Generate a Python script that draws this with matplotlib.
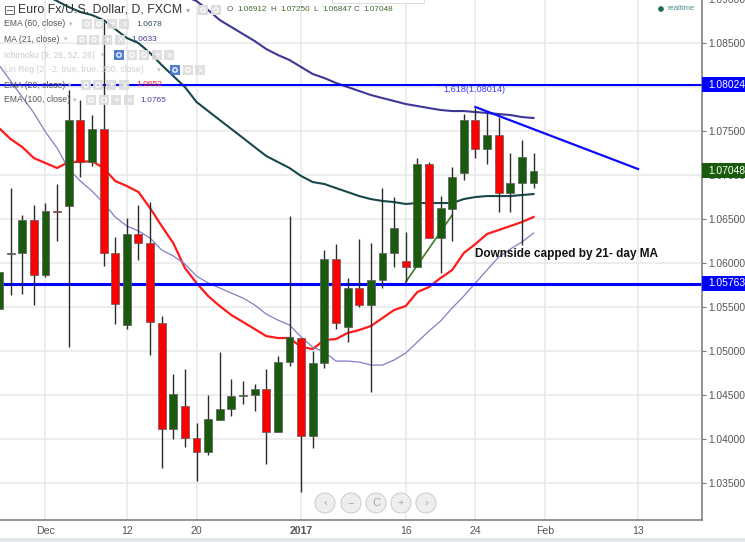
import matplotlib
matplotlib.use('Agg')
import matplotlib.pyplot as plt
from matplotlib.patches import Rectangle, Circle

plt.rcParams['font.family'] = ['Liberation Sans', 'DejaVu Sans']

# daily candles
opens = [1.05477, 1.06102, 1.06114, 1.06489, 1.05864, 1.06591, 1.06648, 1.07625, 1.07148, 1.07523,
         1.06114, 1.05296, 1.0633, 1.06227, 1.05318, 1.04114, 1.04375, 1.04011, 1.03852, 1.04216,
         1.04341, 1.04489, 1.045, 1.04568, 1.0408, 1.04875, 1.05148, 1.04034, 1.04864, 1.06046,
         1.05273, 1.05716, 1.05523, 1.05807, 1.06114, 1.06023, 1.05955, 1.07125, 1.06284, 1.06614,
         1.07023, 1.07625, 1.07296, 1.07455, 1.06796, 1.06909, 1.06912]
highs = [1.05898, 1.06852, 1.06546, 1.06659, 1.06682, 1.06898, 1.07966, 1.07852, 1.07682, 1.08739,
         1.06296, 1.06511, 1.06659, 1.06693, 1.05398, 1.04739, 1.04795, 1.04182, 1.045, 1.04989,
         1.04682, 1.04659, 1.04625, 1.04795, 1.04943, 1.06534, 1.05148, 1.05, 1.06148, 1.06216,
         1.0583, 1.06273, 1.06227, 1.06852, 1.0675, 1.06352, 1.07193, 1.07148, 1.06761, 1.07091,
         1.07693, 1.07761, 1.07705, 1.07659, 1.0725, 1.07398, 1.0725]
lows = [1.05477, 1.05636, 1.05648, 1.05523, 1.05841, 1.0625, 1.05045, 1.06977, 1.07102, 1.05966,
        1.05307, 1.0525, 1.06034, 1.04955, 1.0367, 1.04, 1.03909, 1.03523, 1.03818, 1.04216,
        1.04261, 1.04398, 1.04318, 1.03716, 1.0408, 1.0483, 1.03398, 1.03898, 1.04807, 1.0525,
        1.05102, 1.055, 1.04534, 1.05716, 1.05955, 1.05784, 1.05955, 1.06284, 1.05886, 1.0625,
        1.06943, 1.07193, 1.07125, 1.0658, 1.0658, 1.06205, 1.06847]
closes = [1.05898, 1.06114, 1.06489, 1.05864, 1.06591, 1.0658, 1.07625, 1.07148, 1.07523, 1.06114,
          1.05534, 1.0633, 1.06227, 1.0533, 1.04114, 1.04511, 1.04011, 1.03852, 1.04227, 1.04341,
          1.04489, 1.045, 1.04568, 1.0408, 1.04875, 1.05159, 1.04034, 1.04864, 1.06046, 1.05318,
          1.05716, 1.05523, 1.05807, 1.06114, 1.06398, 1.05955, 1.07125, 1.06284, 1.06625, 1.06977,
          1.07625, 1.07296, 1.07455, 1.06796, 1.06909, 1.07205, 1.07048]

# moving averages
ema20 = [1.07534, 1.07409, 1.07318, 1.07193, 1.07136, 1.0708, 1.07148, 1.07148, 1.07159, 1.0708,
         1.06932, 1.06875, 1.06807, 1.06625, 1.0642, 1.06227, 1.05943, 1.05773, 1.05625, 1.05511,
         1.05409, 1.0533, 1.0525, 1.0517, 1.05148, 1.05148, 1.05045, 1.05023, 1.05125, 1.05136,
         1.05205, 1.05239, 1.05284, 1.05375, 1.05466, 1.05511, 1.0567, 1.05727, 1.0583, 1.05921,
         1.06114, 1.06216, 1.0633, 1.06375, 1.0642, 1.06466, 1.06523]
ma21 = [1.0825, 1.08068, 1.07886, 1.07705, 1.07489, 1.07307, 1.07068, 1.06932, 1.06818, 1.06682,
        1.06523, 1.0642, 1.06364, 1.06284, 1.06148, 1.0608, 1.05989, 1.05852, 1.05773, 1.05716,
        1.05659, 1.05602, 1.05523, 1.0542, 1.05352, 1.05296, 1.05159, 1.05045, 1.04989, 1.04886,
        1.04886, 1.04875, 1.04841, 1.04841, 1.04898, 1.04977, 1.05102, 1.05227, 1.05341, 1.05489,
        1.05625, 1.05773, 1.05921, 1.06068, 1.06159, 1.06239, 1.06341]
ema60_start = 4
ema60 = [1.09046, 1.08977, 1.08909, 1.08852, 1.08818, 1.08761, 1.08659, 1.08557, 1.085, 1.08387,
         1.0825, 1.08125, 1.08, 1.0783, 1.07727, 1.07625, 1.07523, 1.07421, 1.07318, 1.07216,
         1.07148, 1.0708, 1.06989, 1.0692, 1.06898, 1.06852, 1.06807, 1.06761, 1.06727, 1.06705,
         1.06693, 1.06671, 1.06682, 1.06682, 1.06682, 1.06682, 1.06727, 1.0675, 1.06761, 1.06761,
         1.06761, 1.06773, 1.06784]
ema100_start = 16
ema100 = [1.09034, 1.08977, 1.08875, 1.08761, 1.08682, 1.08602, 1.08523, 1.08432, 1.08364, 1.08307,
          1.08227, 1.08148, 1.08102, 1.08046, 1.08, 1.07955, 1.07909, 1.07875, 1.07841, 1.07807,
          1.07784, 1.07761, 1.07739, 1.07727, 1.07727, 1.07716, 1.07705, 1.07693, 1.07682, 1.07659,
          1.07648]

# drawn levels and trend lines
level_top = 1.08024
level_low = 1.05763
blue_trend_x = [41, 55]
blue_trend_y = [1.07773, 1.07068]
green_trend_x = [35, 39]
green_trend_y = [1.05784, 1.06546]

price_ticks = [1.035, 1.04, 1.045, 1.05, 1.055, 1.06, 1.065, 1.07, 1.075, 1.08, 1.085]
price_labels = ['1.03500', '1.04000', '1.04500', '1.05000', '1.05500', '1.06000', '1.06500', '1.07000', '1.07500', '', '1.08500']
date_ticks = [4, 11, 17, 26, 35, 41, 47, 55]
date_labels = ['Dec', '12', '20', '2017', '16', '24', 'Feb', '13']

legend_rows = [('EMA (60, close)', '#555555', 24, [87, 99, 112, 124], '1.0678', '#2b5560', 136),
               ('MA (21, close)', '#555555', 39.5, [82, 94, 107, 120], '1.0633', '#3a3a9a', 131),
               ('Ichimoku (9, 26, 52, 26)', '#c8c8c8', 55, [119, 132, 144, 157, 169], '', '', 0),
               ('Lin Reg (2, -2, true, true, 200, close)', '#d0d0d0', 70, [175, 188, 200], '', '', 0),
               ('EMA (20, close)', '#555555', 85, [86, 98, 111, 124], '1.0652', '#ff2020', 136),
               ('EMA (100, close)', '#555555', 100, [91, 104, 116, 129], '1.0765', '#4a3fa0', 140)]

green = '#1a5a0c'
red = '#ff0000'
grid = '#e8e8e8'

fig = plt.figure(figsize=(7.45, 5.42), dpi=100)
ax = fig.add_axes([0, 22 / 542, 702 / 745, 520 / 542])
ax.set_xlim(1 / 11.62, 703 / 11.62)
ax.set_ylim(1.0308, 1.08989)

ax.set_yticks(price_ticks)
ax.set_yticklabels(price_labels)
ax.yaxis.tick_right()
ax.set_xticks(date_ticks)
ax.set_xticklabels(date_labels)
ax.get_xticklabels()[3].set_fontweight('bold')
ax.tick_params(axis='y', length=3, width=0.8, color='#777777', labelcolor='#555555', labelsize=7.35, pad=1.2)
ax.tick_params(axis='x', length=0, labelcolor='#555555', labelsize=7.6, pad=4.5)
ax.grid(True, color=grid, lw=1.1)
ax.set_axisbelow(True)
for s in ['top', 'left']:
    ax.spines[s].set_visible(False)
for s in ['right', 'bottom']:
    ax.spines[s].set_color('#777777')
    ax.spines[s].set_linewidth(1.1)

idx = list(range(len(opens)))
ax.plot(idx, ema20, color='#ff1a1a', lw=1.6, zorder=2)
ax.plot(idx, ma21, color='#7f7fc4', lw=0.9, zorder=2)
ax.plot(range(ema60_start, ema60_start + len(ema60)), ema60, color='#17484c', lw=1.5, zorder=2)
ax.plot(range(ema100_start, ema100_start + len(ema100)), ema100, color='#3d3796', lw=1.5, zorder=2)
ax.axhline(level_top, color='#0000ff', lw=1.5, zorder=2)
ax.axhline(level_low, color='#0000ff', lw=2.2, zorder=2)
ax.plot(blue_trend_x, blue_trend_y, color='#0a0aff', lw=1.6, zorder=4)
ax.plot(green_trend_x, green_trend_y, color='#3f7a2c', lw=1.2, zorder=2)

colors = [green if c >= o else red for o, c in zip(opens, closes)]
ax.vlines(idx, lows, highs, color='#2b2b2b', lw=1.0, zorder=3)
ax.bar(idx, [max(abs(c - o), 0.00012) for o, c in zip(opens, closes)],
       bottom=[min(o, c) for o, c in zip(opens, closes)], width=0.68,
       color=colors, edgecolor='#5a5a5a', linewidth=0.5, zorder=3.5)

# everything else is placed in pixels on a layer over the chart
top = fig.add_axes([0, 0, 1, 1], facecolor='none')
top.set_xlim(0, 745)
top.set_ylim(542, 0)
top.axis('off')

# bottom strip and the scrap of toolbar at the top edge
top.add_patch(Rectangle((0, 538), 745, 4, color='#e3e5ec', lw=0))
top.add_patch(Rectangle((332, -6), 92, 9, fc='white', ec='#dddddd', lw=0.7))

# price boxes
for y, col, txt in [(84.5, '#0000ff', '1.08024'), (283, '#0000ff', '1.05763'), (170.5, green, '1.07048')]:
    top.add_patch(Rectangle((702, y - 7.5), 43, 15, color=col, lw=0))
    top.text(708, y, txt, color='white', fontsize=7.35, va='center', ha='left')
top.text(708, 0, '1.09000', color='#555555', fontsize=7.35, va='center', ha='left', clip_on=True)

# header
top.add_patch(Rectangle((5, 5.5), 8.5, 8.5, fc='none', ec='#666666', lw=0.7))
top.plot([7, 11.5], [9.7, 9.7], color='#666666', lw=0.7)
top.text(18, 10, 'Euro Fx/U.S. Dollar, D, FXCM', color='#333333', fontsize=8.9, va='center')
top.text(188, 9.5, '\u25be', color='#aaaaaa', fontsize=6, va='center', ha='center', family=['DejaVu Sans'])
for x in [203, 216]:
    top.add_patch(Rectangle((x - 5, 5), 10, 10, color='#dcdcdc', lw=0))
    top.add_patch(Circle((x, 10), 2.2, fc='none', ec='white', lw=0.9))
for x, txt, col in [(227, 'O', '#555555'), (237, '1.06912', '#3d6b2a'), (270, 'H', '#555555'), (280, '1.07250', '#3d6b2a'),
                    (313, 'L', '#555555'), (322, '1.06847', '#3d6b2a'), (354, 'C', '#555555'), (363, '1.07048', '#3d6b2a')]:
    top.text(x, 9.5, txt, color=col, fontsize=5.9, va='center')

# indicator legend
for label, col, y, boxes, val, valcol, valx in legend_rows:
    top.text(4, y, label, color=col, fontsize=6.2, va='center')
    top.text(boxes[0] - 16, y, '\u25be', color='#bbbbbb', fontsize=5, va='center', ha='center', family=['DejaVu Sans'])
    for n, x in enumerate(boxes):
        active = n == 0 and col != '#555555'
        top.add_patch(Rectangle((x - 5, y - 5), 10, 10, color='#3f6fd0' if active else '#dcdcdc', lw=0, alpha=0.9))
        if n == len(boxes) - 1:
            top.text(x, y, '\u00d7', color='white', fontsize=7, ha='center', va='center')
        elif n == len(boxes) - 2 and len(boxes) > 3:
            top.text(x, y, '+', color='white', fontsize=7, ha='center', va='center')
        else:
            top.add_patch(Circle((x, y), 2.2, fc='none', ec='white', lw=0.9))
    if val:
        top.text(valx, y, val, color=valcol, fontsize=6, va='center')

# realtime marker
top.add_patch(Circle((661, 9), 2.8, color='#1f6b4a', lw=0))
top.text(668, 9, 'realtime', color='#4f8a8a', fontsize=5.5, va='center')

# annotations
top.text(430, 84, '...', color='#3a3aff', fontsize=6, va='center')
top.text(443, 90, '1.618(1.08014)', color='#3a3aff', fontsize=6.6, va='center')
top.text(475, 254, 'Downside capped by 21- day MA', color='#111111', fontsize=8.5, fontweight='bold', va='center')

# zoom buttons
for x, sym in [(325, '\u2039'), (351, '\u2212'), (376, 'C'), (401, '+'), (426, '\u203a')]:
    top.add_patch(Circle((x, 503), 10, fc='#eeeeee', ec='#cfcfcf', lw=0.8))
    top.text(x, 503, sym, color='#aaaaaa', fontsize=8, ha='center', va='center')

fig.savefig('out.png', dpi=100)
